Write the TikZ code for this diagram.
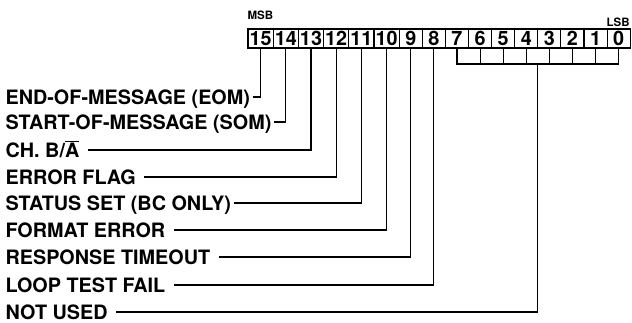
\documentclass[tikz,border=0pt]{standalone}
\usepackage{fontspec}
\setmainfont{TeX Gyre Heros}
\usetikzlibrary{positioning}

\begin{document}
\begin{tikzpicture}[x=1pt,y=-1pt,line width=1.1pt,every node/.append style={font=\bfseries\fontsize{19.8}{22}\selectfont},cell/.style={draw, inner sep=0pt, outer sep=0pt, minimum height=19pt, minimum width=23.1pt},wide/.style={minimum width=25.2pt},lbl/.style={inner xsep=2pt, inner ysep=0pt, text height=14pt, text depth=0pt, anchor=base west},tag/.style={inner sep=0pt, font=\bfseries\fontsize{11.5}{12}\selectfont},]
    \useasboundingbox (0,0) rectangle (632,322);
    % status word bits
    \node [cell, wide, anchor=north west] (b15) at (248,29) {15};
    \foreach \i [evaluate=\i as \j using int(\i+1)] in {14,...,10}
        \node [cell, wide, right=0pt of b\j] (b\i) {\i};
    \foreach \i [evaluate=\i as \j using int(\i+1)] in {9,...,0}
        \node [cell, right=0pt of b\j] (b\i) {\i};
    \node [tag, above right=9pt and -1pt of b15.north west] (msb) {MSB};
    \node [tag, above left=2pt and 0pt of b0.north east] (lsb) {LSB};
    % labels
    \node [lbl] (eom) at (3,104) {END-OF-MESSAGE (EOM)};
    \node [lbl, below=25pt of eom.base west, anchor=base west] (som) {START-OF-MESSAGE (SOM)};
    \node [lbl, below=28pt of som.base west, anchor=base west] (ch) {CH. B/$\overline{\mbox{A}}$};
    \node [lbl, below=27pt of ch.base west, anchor=base west] (ef) {ERROR FLAG};
    \node [lbl, below=26pt of ef.base west, anchor=base west] (ss) {STATUS SET (BC ONLY)};
    \node [lbl, below=27pt of ss.base west, anchor=base west] (fe) {FORMAT ERROR};
    \node [lbl, below=27pt of fe.base west, anchor=base west] (rt) {RESPONSE TIMEOUT};
    \node [lbl, below=28pt of rt.base west, anchor=base west] (ltf) {LOOP TEST FAIL};
    \node [lbl, below=27pt of ltf.base west, anchor=base west] (nu) {NOT USED};
    % leader lines
    \draw (eom.east) -| (b15.south);
    \draw (som.east) -| (b14.south);
    \draw ([xshift=6pt]ch.east) -| (b13.south);
    \draw ([xshift=6pt]ef.east) -| (b12.south);
    \draw (ss.east) -| (b11.south);
    \draw ([xshift=6pt]fe.east) -| (b10.south);
    \draw ([xshift=6pt]rt.east) -| (b9.south);
    \draw ([xshift=6pt]ltf.east) -| (b8.south);
    % unused bits 7..0
    \coordinate [below=16pt of b7.south] (jl);
    \draw (b7.south) -- (jl) -- (b0.south |- jl) -- (b0.south);
    \foreach \i in {6,...,1}
        \draw (b\i.south) -- (b\i.south |- jl);
    \draw ([xshift=6pt]nu.east) -| (b4.south east |- jl);
\end{tikzpicture}
\end{document}
